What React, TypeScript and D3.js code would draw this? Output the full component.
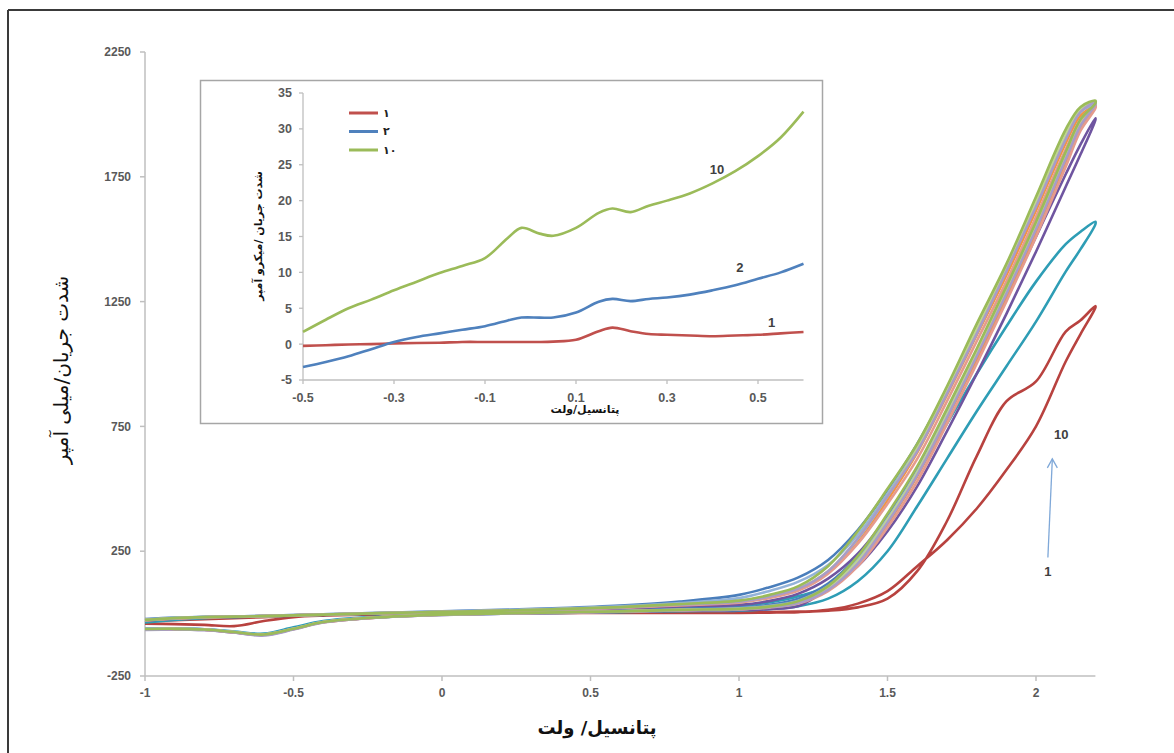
import React from 'react';
import * as d3 from 'd3';

const W = 1174;
const H = 753;

// main chart axes
const xTicks = [-1, -0.5, 0, 0.5, 1, 1.5, 2];
const yTicks = [-250, 250, 750, 1250, 1750, 2250];

// potential grid shared by every cycle (V)
const vGrid = [-1, -0.9, -0.8, -0.7, -0.6, -0.5, -0.4, -0.2, 0, 0.2, 0.4, 0.6, 0.8, 1.0, 1.1, 1.2, 1.3, 1.4, 1.5, 1.6, 1.7, 1.8, 1.9, 2.0, 2.1, 2.15, 2.2];

// current (mA) for each cycle, forward and reverse scan, on vGrid
const c1Fwd = [-30, -26, -22, -18, -14, -10, -7, -3, 0, 2, 3, 4, 5, 5, 6, 8, 12, 25, 60, 170, 370, 630, 850, 930, 1130, 1175, 1232];
const c1Rev = [-40, -42, -45, -50, -30, -14, -8, -4, -1, 1, 2, 3, 3, 3, 4, 6, 15, 40, 90, 190, 294, 420, 575, 750, 1010, 1120, 1226];
const c2Fwd = [-35, -25, -18, -14, -11, -8, -5, 0, 4, 8, 12, 18, 25, 30, 45, 70, 110, 210, 360, 560, 760, 960, 1150, 1330, 1480, 1530, 1570];
const c2Rev = [-62, -60, -63, -72, -80, -55, -30, -12, -4, 0, 3, 6, 10, 12, 18, 30, 60, 130, 250, 430, 620, 810, 990, 1170, 1370, 1460, 1560];
const c3Fwd = [-28, -20, -15, -12, -10, -7, -4, 1, 6, 10, 14, 20, 28, 35, 50, 80, 140, 240, 390, 570, 790, 1020, 1260, 1510, 1760, 1880, 1985];
const c3Rev = [-65, -63, -66, -76, -86, -62, -34, -14, -5, 0, 4, 8, 12, 14, 18, 30, 100, 190, 330, 510, 730, 960, 1200, 1450, 1710, 1840, 1978];
const c4Fwd = [-22, -16, -13, -11, -9, -6, -3, 3, 9, 15, 22, 32, 48, 75, 105, 145, 215, 335, 495, 680, 900, 1150, 1390, 1650, 1920, 2015, 2040];
const c4Rev = [-60, -60, -63, -74, -84, -60, -34, -14, -3, 2, 6, 11, 18, 24, 35, 60, 120, 230, 390, 580, 810, 1050, 1300, 1560, 1840, 1970, 2035];
const c5Fwd = [-26, -19, -15, -12, -10, -7, -4, 2, 7, 12, 18, 26, 38, 50, 70, 100, 165, 285, 455, 645, 875, 1115, 1355, 1615, 1885, 1995, 2035];
const c5Rev = [-64, -63, -65, -75, -85, -62, -35, -14, -4, 1, 5, 9, 15, 20, 28, 45, 100, 200, 360, 550, 780, 1020, 1270, 1530, 1810, 1950, 2030];
const c6Fwd = [-25, -18, -14, -12, -10, -7, -4, 2, 7, 12, 18, 25, 36, 48, 68, 100, 170, 300, 470, 660, 890, 1140, 1380, 1650, 1920, 2020, 2050];
const c6Rev = [-62, -61, -64, -74, -84, -61, -34, -14, -4, 1, 5, 9, 14, 18, 26, 45, 100, 210, 375, 565, 795, 1040, 1290, 1550, 1830, 1965, 2040];
const c7Fwd = [-27, -20, -15, -12, -10, -7, -4, 1, 6, 11, 16, 23, 33, 44, 62, 92, 160, 280, 440, 620, 850, 1090, 1330, 1590, 1860, 1980, 2035];
const c7Rev = [-63, -62, -65, -75, -85, -62, -35, -14, -4, 1, 4, 8, 13, 17, 24, 40, 90, 190, 345, 530, 760, 1000, 1250, 1510, 1790, 1935, 2025];
const c8Fwd = [-24, -17, -13, -11, -9, -6, -3, 3, 8, 14, 20, 29, 42, 62, 90, 128, 195, 315, 480, 665, 890, 1135, 1375, 1640, 1905, 2010, 2040];
const c8Rev = [-61, -60, -63, -73, -83, -60, -33, -13, -3, 2, 5, 10, 16, 21, 30, 52, 110, 220, 380, 570, 800, 1045, 1295, 1555, 1835, 1968, 2038];
const c9Fwd = [-25, -18, -14, -12, -10, -7, -4, 2, 7, 12, 18, 26, 38, 52, 74, 110, 190, 330, 500, 680, 910, 1160, 1400, 1670, 1940, 2030, 2055];
const c9Rev = [-62, -61, -64, -74, -84, -61, -34, -14, -4, 1, 5, 9, 15, 19, 28, 50, 110, 230, 400, 590, 820, 1060, 1310, 1570, 1850, 1980, 2045];
const c10Fwd = [-26, -19, -14, -12, -10, -7, -4, 2, 7, 12, 17, 25, 36, 48, 68, 100, 170, 300, 470, 650, 880, 1120, 1370, 1630, 1900, 2010, 2048];
const c10Rev = [-66, -64, -66, -76, -88, -64, -36, -15, -5, 0, 4, 8, 13, 17, 25, 42, 95, 200, 365, 555, 785, 1030, 1280, 1540, 1820, 1955, 2040];

// draw order (back to front)
const cycles = [
  { fwd: c1Fwd, rev: c1Rev, color: '#B8423F' },
  { fwd: c2Fwd, rev: c2Rev, color: '#2E9DB5' },
  { fwd: c3Fwd, rev: c3Rev, color: '#6F55A0' },
  { fwd: c4Fwd, rev: c4Rev, color: '#4A7EBB' },
  { fwd: c5Fwd, rev: c5Rev, color: '#F39340' },
  { fwd: c8Fwd, rev: c8Rev, color: '#94B3D9' },
  { fwd: c6Fwd, rev: c6Rev, color: '#BFD592' },
  { fwd: c7Fwd, rev: c7Rev, color: '#E59B8D' },
  { fwd: c10Fwd, rev: c10Rev, color: '#A89CC8' },
  { fwd: c9Fwd, rev: c9Rev, color: '#9BBB59' },
];

// inset data (microampere)
const insetXTicks = [-0.5, -0.3, -0.1, 0.1, 0.3, 0.5];
const insetYTicks = [-5, 0, 5, 10, 15, 20, 25, 30, 35];
const insetV = [-0.5, -0.45, -0.4, -0.35, -0.3, -0.25, -0.2, -0.15, -0.1, -0.05, -0.02, 0.02, 0.05, 0.1, 0.15, 0.18, 0.22, 0.26, 0.3, 0.35, 0.4, 0.45, 0.5, 0.55, 0.6];
const inset1 = [-0.25, -0.15, -0.05, 0, 0.1, 0.15, 0.2, 0.3, 0.3, 0.3, 0.3, 0.3, 0.35, 0.6, 1.8, 2.3, 1.8, 1.4, 1.3, 1.2, 1.1, 1.2, 1.3, 1.5, 1.7];
const inset2 = [-3.2, -2.5, -1.7, -0.7, 0.3, 1.0, 1.5, 2.0, 2.5, 3.3, 3.7, 3.7, 3.7, 4.4, 5.9, 6.3, 6.0, 6.3, 6.5, 6.9, 7.5, 8.2, 9.1, 10.0, 11.2];
const inset10 = [1.7, 3.4, 5.0, 6.2, 7.5, 8.7, 9.9, 10.9, 12.0, 14.8, 16.2, 15.4, 15.1, 16.2, 18.3, 18.9, 18.4, 19.3, 20.0, 21.0, 22.4, 24.1, 26.2, 28.8, 32.4];
const insetSeries = [
  { values: inset1, color: '#C0504D', legend: '۱', tag: '1', tagAt: [0.53, 3.0] },
  { values: inset2, color: '#4F81BD', legend: '۲', tag: '2', tagAt: [0.46, 10.7] },
  { values: inset10, color: '#9BBB59', legend: '۱۰', tag: '10', tagAt: [0.41, 24.4] },
];

const tickFont = '"Liberation Sans", Arial, sans-serif';
const faFont = '"DejaVu Sans", "Noto Sans", sans-serif';
const tickColor = '#595959';
const axisColor = '#BFBFBF';

export default function App() {
  const x = d3.scaleLinear().domain([-1, 2]).range([145, 1036]);
  const y = d3.scaleLinear().domain([-250, 2250]).range([676, 52]);
  const ix = d3.scaleLinear().domain([-0.5, 0.5]).range([303, 758]);
  const iy = d3.scaleLinear().domain([-5, 35]).range([380, 93]);

  const loop = d3.line<[number, number]>()
    .x(d => x(d[0]))
    .y(d => y(d[1]))
    .curve(d3.curveCatmullRom.alpha(0.5));

  const insetLine = d3.line<[number, number]>()
    .x(d => ix(d[0]))
    .y(d => iy(d[1]))
    .curve(d3.curveCatmullRom.alpha(0.5));

  const loopPoints = (fwd: number[], rev: number[]) => {
    const pts: [number, number][] = vGrid.map((v, i) => [v, fwd[i]]);
    for (let i = vGrid.length - 1; i >= 0; i--) pts.push([vGrid[i], rev[i]]);
    return pts;
  };

  const xEnd = x(2.2);

  return (
    <svg width={W} height={H} style={{ position: 'absolute', left: 0, top: 0, background: '#fff' }}>
      {/* outer frame */}
      <line x1={8} y1={10} x2={W} y2={10} stroke="#3a3a3a" strokeWidth={2} />
      <line x1={8} y1={10} x2={8} y2={H} stroke="#3a3a3a" strokeWidth={2} />

      {/* main axes */}
      <line x1={x(-1)} y1={y(2250)} x2={x(-1)} y2={y(-250)} stroke={axisColor} strokeWidth={1.5} />
      <line x1={x(-1)} y1={y(-250)} x2={xEnd} y2={y(-250)} stroke={axisColor} strokeWidth={1.5} />
      {yTicks.map(t => (
        <g key={'y' + t}>
          <line x1={x(-1) - 5} x2={x(-1)} y1={y(t)} y2={y(t)} stroke={axisColor} strokeWidth={1.5} />
          <text x={131} y={y(t)} dy="0.35em" textAnchor="end" fontFamily={tickFont} fontWeight="bold" fontSize={12} fill={tickColor}>{t}</text>
        </g>
      ))}
      {xTicks.map(t => (
        <g key={'x' + t}>
          <line x1={x(t)} x2={x(t)} y1={y(-250)} y2={y(-250) + 5} stroke={axisColor} strokeWidth={1.5} />
          <text x={x(t)} y={y(-250) + 21} textAnchor="middle" fontFamily={tickFont} fontWeight="bold" fontSize={12} fill={tickColor}>{t}</text>
        </g>
      ))}

      {/* cycles */}
      {cycles.map((c, i) => (
        <path key={i} d={loop(loopPoints(c.fwd, c.rev)) || ''} fill="none" stroke={c.color} strokeWidth={2.6} strokeLinejoin="round" />
      ))}

      {/* arrow annotation */}
      <line x1={x(2.04)} y1={y(225)} x2={x(2.055)} y2={y(620)} stroke="#7FA8D8" strokeWidth={1.3} />
      <polyline
        points={`${x(2.055) - 5},${y(620) + 9} ${x(2.055)},${y(620)} ${x(2.055) + 5},${y(620) + 9}`}
        fill="none" stroke="#7FA8D8" strokeWidth={1.3} />
      <text x={x(2.085)} y={y(700)} textAnchor="middle" fontFamily={tickFont} fontWeight="bold" fontSize={13} fill="#404040">10</text>
      <text x={x(2.04)} y={y(150)} textAnchor="middle" fontFamily={tickFont} fontWeight="bold" fontSize={13} fill="#404040">1</text>

      {/* axis titles */}
      <text x={597} y={734} textAnchor="middle" fontFamily={faFont} fontWeight="bold" fontSize={18} fill="#111">پتانسیل/ ولت</text>
      <text transform="translate(68,370) rotate(-90)" textAnchor="middle" fontFamily={faFont} fontSize={20} fill="#111">شدت جریان/میلی آمپر</text>

      {/* inset */}
      <rect x={200.5} y={80.5} width={622} height={343} fill="#fff" stroke="#A6A6A6" strokeWidth={1.5} />
      <line x1={ix(-0.5)} y1={iy(35)} x2={ix(-0.5)} y2={iy(-5)} stroke={axisColor} strokeWidth={1.3} />
      <line x1={ix(-0.5)} y1={iy(-5)} x2={ix(0.6)} y2={iy(-5)} stroke={axisColor} strokeWidth={1.3} />
      {insetYTicks.map(t => (
        <g key={'iy' + t}>
          <line x1={ix(-0.5) - 4} x2={ix(-0.5)} y1={iy(t)} y2={iy(t)} stroke={axisColor} strokeWidth={1.3} />
          <text x={292} y={iy(t)} dy="0.35em" textAnchor="end" fontFamily={tickFont} fontWeight="bold" fontSize={12.5} fill={tickColor}>{t}</text>
        </g>
      ))}
      {insetXTicks.map(t => (
        <g key={'ix' + t}>
          <line x1={ix(t)} x2={ix(t)} y1={iy(-5)} y2={iy(-5) + 4} stroke={axisColor} strokeWidth={1.3} />
          <text x={ix(t)} y={iy(-5) + 22} textAnchor="middle" fontFamily={tickFont} fontWeight="bold" fontSize={12.5} fill={tickColor}>{t}</text>
        </g>
      ))}
      {insetSeries.map(s => (
        <path key={s.tag} d={insetLine(insetV.map((v, i) => [v, s.values[i]] as [number, number])) || ''} fill="none" stroke={s.color} strokeWidth={2.6} />
      ))}
      {insetSeries.map(s => (
        <text key={'t' + s.tag} x={ix(s.tagAt[0])} y={iy(s.tagAt[1])} dy="0.35em" textAnchor="middle" fontFamily={tickFont} fontWeight="bold" fontSize={13} fill="#404040">{s.tag}</text>
      ))}
      {insetSeries.map((s, i) => (
        <g key={'lg' + s.tag}>
          <line x1={349} x2={378} y1={113 + i * 18.5} y2={113 + i * 18.5} stroke={s.color} strokeWidth={3} />
          <text x={383} y={113 + i * 18.5} dy="0.35em" textAnchor="start" fontFamily={faFont} fontWeight="bold" fontSize={11} fill="#222">{s.legend}</text>
        </g>
      ))}
      <text x={585} y={413} textAnchor="middle" fontFamily={faFont} fontWeight="bold" fontSize={11} fill="#111">پتانسیل/ولت</text>
      <text transform="translate(262,236) rotate(-90)" textAnchor="middle" fontFamily={faFont} fontWeight="bold" fontSize={11} fill="#111">شدت جریان /میکرو آمپر</text>
    </svg>
  );
}
